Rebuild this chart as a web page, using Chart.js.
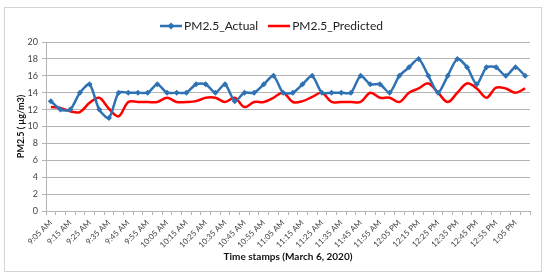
<!DOCTYPE html>
<html>
<head>
<meta charset="utf-8">
<script src="https://cdn.jsdelivr.net/npm/chart.js"></script>
<style>
  body { margin: 0; background: #fff; }
  #frame { position: absolute; left: 4px; top: 7px; width: 536px; height: 263px; border: 1px solid #d4d4d4; }
  #chart { position: absolute; left: 0; top: 0; }
</style>
</head>
<body>
<div id="frame"></div>
<canvas id="chart" width="550" height="279"></canvas>
<script>
const times = [
    '9:05 AM', '9:10 AM', '9:15 AM', '9:20 AM', '9:25 AM', '9:30 AM', '9:35 AM', '9:40 AM', '9:45 AM', '9:50 AM',
    '9:55 AM', '10:00 AM', '10:05 AM', '10:10 AM', '10:15 AM', '10:20 AM', '10:25 AM', '10:30 AM', '10:35 AM', '10:40 AM',
    '10:45 AM', '10:50 AM', '10:55 AM', '11:00 AM', '11:05 AM', '11:10 AM', '11:15 AM', '11:20 AM', '11:25 AM', '11:30 AM',
    '11:35 AM', '11:40 AM', '11:45 AM', '11:50 AM', '11:55 AM', '12:00 PM', '12:05 PM', '12:10 PM', '12:15 PM', '12:20 PM',
    '12:25 PM', '12:30 PM', '12:35 PM', '12:40 PM', '12:45 PM', '12:50 PM', '12:55 PM', '1:00 PM', '1:05 PM', '1:10 PM'
];
const actual = [
    13, 12, 12, 14, 15, 12, 11, 14, 14, 14,
    14, 15, 14, 14, 14, 15, 15, 14, 15, 13,
    14, 14, 15, 16, 14, 14, 15, 16, 14, 14,
    14, 14, 16, 15, 15, 14, 16, 17, 18, 16,
    14, 16, 18, 17, 15, 17, 17, 16, 17, 16
];
const predicted = [
    12.3, 12.2, 11.8, 11.7, 12.8, 13.4, 12.1, 11.2, 12.9, 12.9,
    12.9, 12.9, 13.4, 12.9, 12.9, 13.0, 13.4, 13.4, 12.9, 13.4,
    12.3, 12.9, 12.9, 13.4, 14.0, 12.9, 13.0, 13.5, 14.0, 12.9,
    12.9, 12.9, 12.9, 14.0, 13.4, 13.4, 12.9, 14.0, 14.5, 15.1,
    14.0, 12.9, 14.0, 15.1, 14.5, 13.4, 14.6, 14.5, 14.0, 14.5
];
const yTicks = [0, 2, 4, 6, 8, 10, 12, 14, 16, 18, 20];

const blue = '#2e72b4';
const red = '#ff0000';
const gridColor = '#b4b4b4';
const fontFamily = 'Lato, "Open Sans", sans-serif';

// legend icons: a short line, with a diamond for the actual series
function legendIcon(color, marker) {
    const c = document.createElement('canvas');
    c.width = 22;
    c.height = 8;
    const g = c.getContext('2d');
    g.strokeStyle = color;
    g.lineWidth = 2.5;
    g.beginPath();
    g.moveTo(0, 4);
    g.lineTo(22, 4);
    g.stroke();
    if (marker) {
        g.fillStyle = color;
        g.beginPath();
        g.moveTo(11, 0.5);
        g.lineTo(14.5, 4);
        g.lineTo(11, 7.5);
        g.lineTo(7.5, 4);
        g.closePath();
        g.fill();
    }
    return c;
}
const icons = [legendIcon(blue, true), legendIcon(red, false)];

new Chart(document.getElementById('chart'), {
    type: 'line',
    data: {
        labels: times,
        datasets: [{
            label: 'PM2.5_Actual',
            data: actual,
            borderColor: blue,
            backgroundColor: blue,
            borderWidth: 2.5,
            pointStyle: 'rectRot',
            pointRadius: 3,
            pointBackgroundColor: blue,
            pointBorderWidth: 0,
            tension: 0.25
        }, {
            label: 'PM2.5_Predicted',
            data: predicted,
            borderColor: red,
            backgroundColor: red,
            borderWidth: 2.5,
            pointRadius: 0,
            tension: 0.35
        }]
    },
    options: {
        responsive: false,
        animation: false,
        layout: { padding: { left: 17, right: 20, top: 6, bottom: 0 } },
        plugins: {
            legend: {
                position: 'top',
                labels: {
                    usePointStyle: true,
                    pointStyleWidth: 14,
                    padding: 14,
                    color: '#222',
                    font: { family: fontFamily, size: 12 },
                    generateLabels(chart) {
                        const items = Chart.defaults.plugins.legend.labels.generateLabels(chart);
                        items.forEach((it, i) => { it.pointStyle = icons[i]; });
                        return items;
                    }
                }
            },
            tooltip: { enabled: false }
        },
        scales: {
            x: {
                offset: true,
                afterFit: (axis) => { axis.height = 68; },
                grid: {
                    offset: true,
                    drawOnChartArea: false,
                    drawTicks: true,
                    tickLength: 4,
                    color: gridColor
                },
                border: { color: gridColor },
                ticks: {
                    autoSkip: false,
                    minRotation: 45,
                    maxRotation: 45,
                    padding: 3,
                    color: '#444',
                    font: { family: fontFamily, size: 8 },
                    callback: (v, i) => (i % 2 === 0 ? times[i] : '')
                },
                title: {
                    display: true,
                    text: 'Time stamps (March 6, 2020)',
                    color: '#111',
                    font: { family: fontFamily, size: 10, weight: 'bold' },
                    padding: { top: 0, bottom: 16 }
                }
            },
            y: {
                min: 0,
                max: 20,
                afterFit: (axis) => { axis.width = 29; },
                afterBuildTicks: (axis) => { axis.ticks = yTicks.map(v => ({ value: v })); },
                grid: {
                    color: gridColor,
                    tickLength: 4
                },
                border: { color: gridColor },
                ticks: {
                    padding: 4,
                    color: '#444',
                    font: { family: fontFamily, size: 9 }
                },
                title: {
                    display: true,
                    text: 'PM2.5 ( µg/m3)',
                    color: '#111',
                    font: { family: fontFamily, size: 9, weight: 'bold', lineHeight: 1 },
                    padding: 0
                }
            }
        }
    }
});
</script>
</body>
</html>
